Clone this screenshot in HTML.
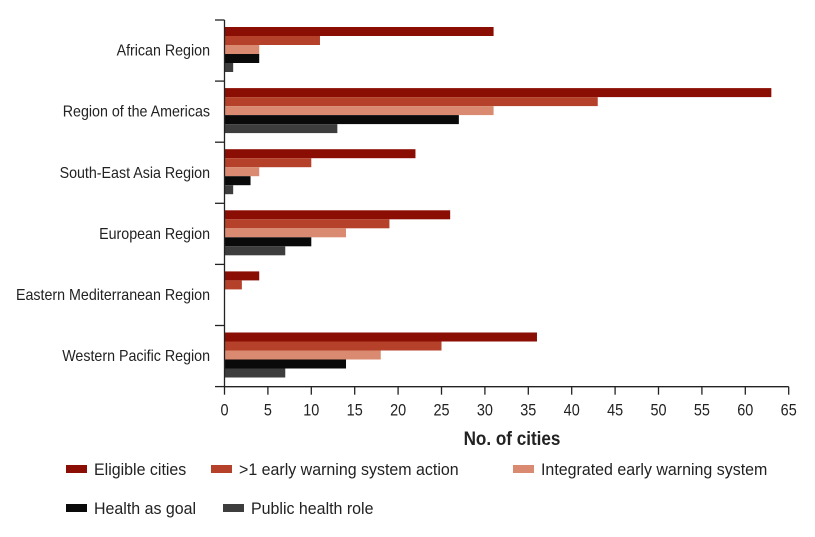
<!DOCTYPE html>
<html><head><meta charset="utf-8"><style>
body{margin:0;background:#fff;}
svg text{font-family:"Liberation Sans Narrow","Liberation Sans",sans-serif;fill:#222;}
</style></head><body>
<svg id="c" width="815" height="532"></svg>
<script>
const regions=["African Region","Region of the Americas","South-East Asia Region","European Region","Eastern Mediterranean Region","Western Pacific Region"];
const eligible=[31,63,22,26,4,36];
const ewsAction=[11,43,10,19,2,25];
const integrated=[4,31,4,14,0,18];
const healthGoal=[4,27,3,10,0,14];
const publicHealth=[1,13,1,7,0,7];
const xTicks=[0,5,10,15,20,25,30,35,40,45,50,55,60,65];
const seriesNames=["Eligible cities",">1 early warning system action","Integrated early warning system","Health as goal","Public health role"];
const series=[eligible,ewsAction,integrated,healthGoal,publicHealth];
const colors=["#8b0e04","#b5412a","#d98a70","#0a0a0a","#3d3d3d"];
const NS="http://www.w3.org/2000/svg",svg=document.getElementById('c');
const x0=224.5,xs=8.68,yTop=20,gH=61.1,axisY=386.7,bh=9;
const X=v=>x0+v*xs;
function mk(t,a,p){const e=document.createElementNS(NS,t);for(const k in a)e.setAttribute(k,a[k]);(p||svg).appendChild(e);return e;}
regions.forEach((r,i)=>{
  const g0=yTop+i*gH;
  series.forEach((s,j)=>{
    const b=mk('rect',{x:x0,y:g0+7+j*bh,width:Math.max(0,X(s[i])-x0),height:bh,fill:colors[j]});
    
    
  });
  const t=mk('text',{x:0,y:0,'text-anchor':'end','font-size':15.5,transform:`translate(210,${g0+gH/2+5}) scale(0.92,1)`});
  t.textContent=r;
  
  
});
for(let i=0;i<=regions.length;i++){mk('line',{x1:215,x2:x0,y1:yTop+i*gH,y2:yTop+i*gH,stroke:'#222','stroke-width':1.3});}
const ya=mk('line',{x1:x0,x2:x0,y1:yTop,y2:axisY,stroke:'#222','stroke-width':1.3});

const xa=mk('line',{x1:x0,x2:X(65),y1:axisY,y2:axisY,stroke:'#222','stroke-width':1.3});

xTicks.forEach(v=>{
  mk('line',{x1:X(v),x2:X(v),y1:axisY,y2:axisY+8,stroke:'#222','stroke-width':1.3});
  const t=mk('text',{x:0,y:0,'text-anchor':'middle','font-size':17,transform:`translate(${X(v)},${axisY+29}) scale(0.85,1)`});
  t.textContent=v;
  
  
});
const xt=mk('text',{x:0,y:0,'text-anchor':'middle','font-size':19,'font-weight':'bold',transform:'translate(512,445) scale(0.9,1)'});
xt.textContent="No. of cities";

const leg=[[66,465,94],[211,465,239],[513,465,541],[66,504,94],[223,504,251]];
leg.forEach((p,j)=>{
  const g=mk('g',{});
  
  
  mk('rect',{x:p[0],y:p[1],width:21,height:8,fill:colors[j]},g);
  const t=mk('text',{x:0,y:0,'font-size':17,transform:`translate(${p[2]},${p[1]+10}) scale(0.94,1)`},g);
  t.textContent=seriesNames[j];
});
</script>
</body></html>
